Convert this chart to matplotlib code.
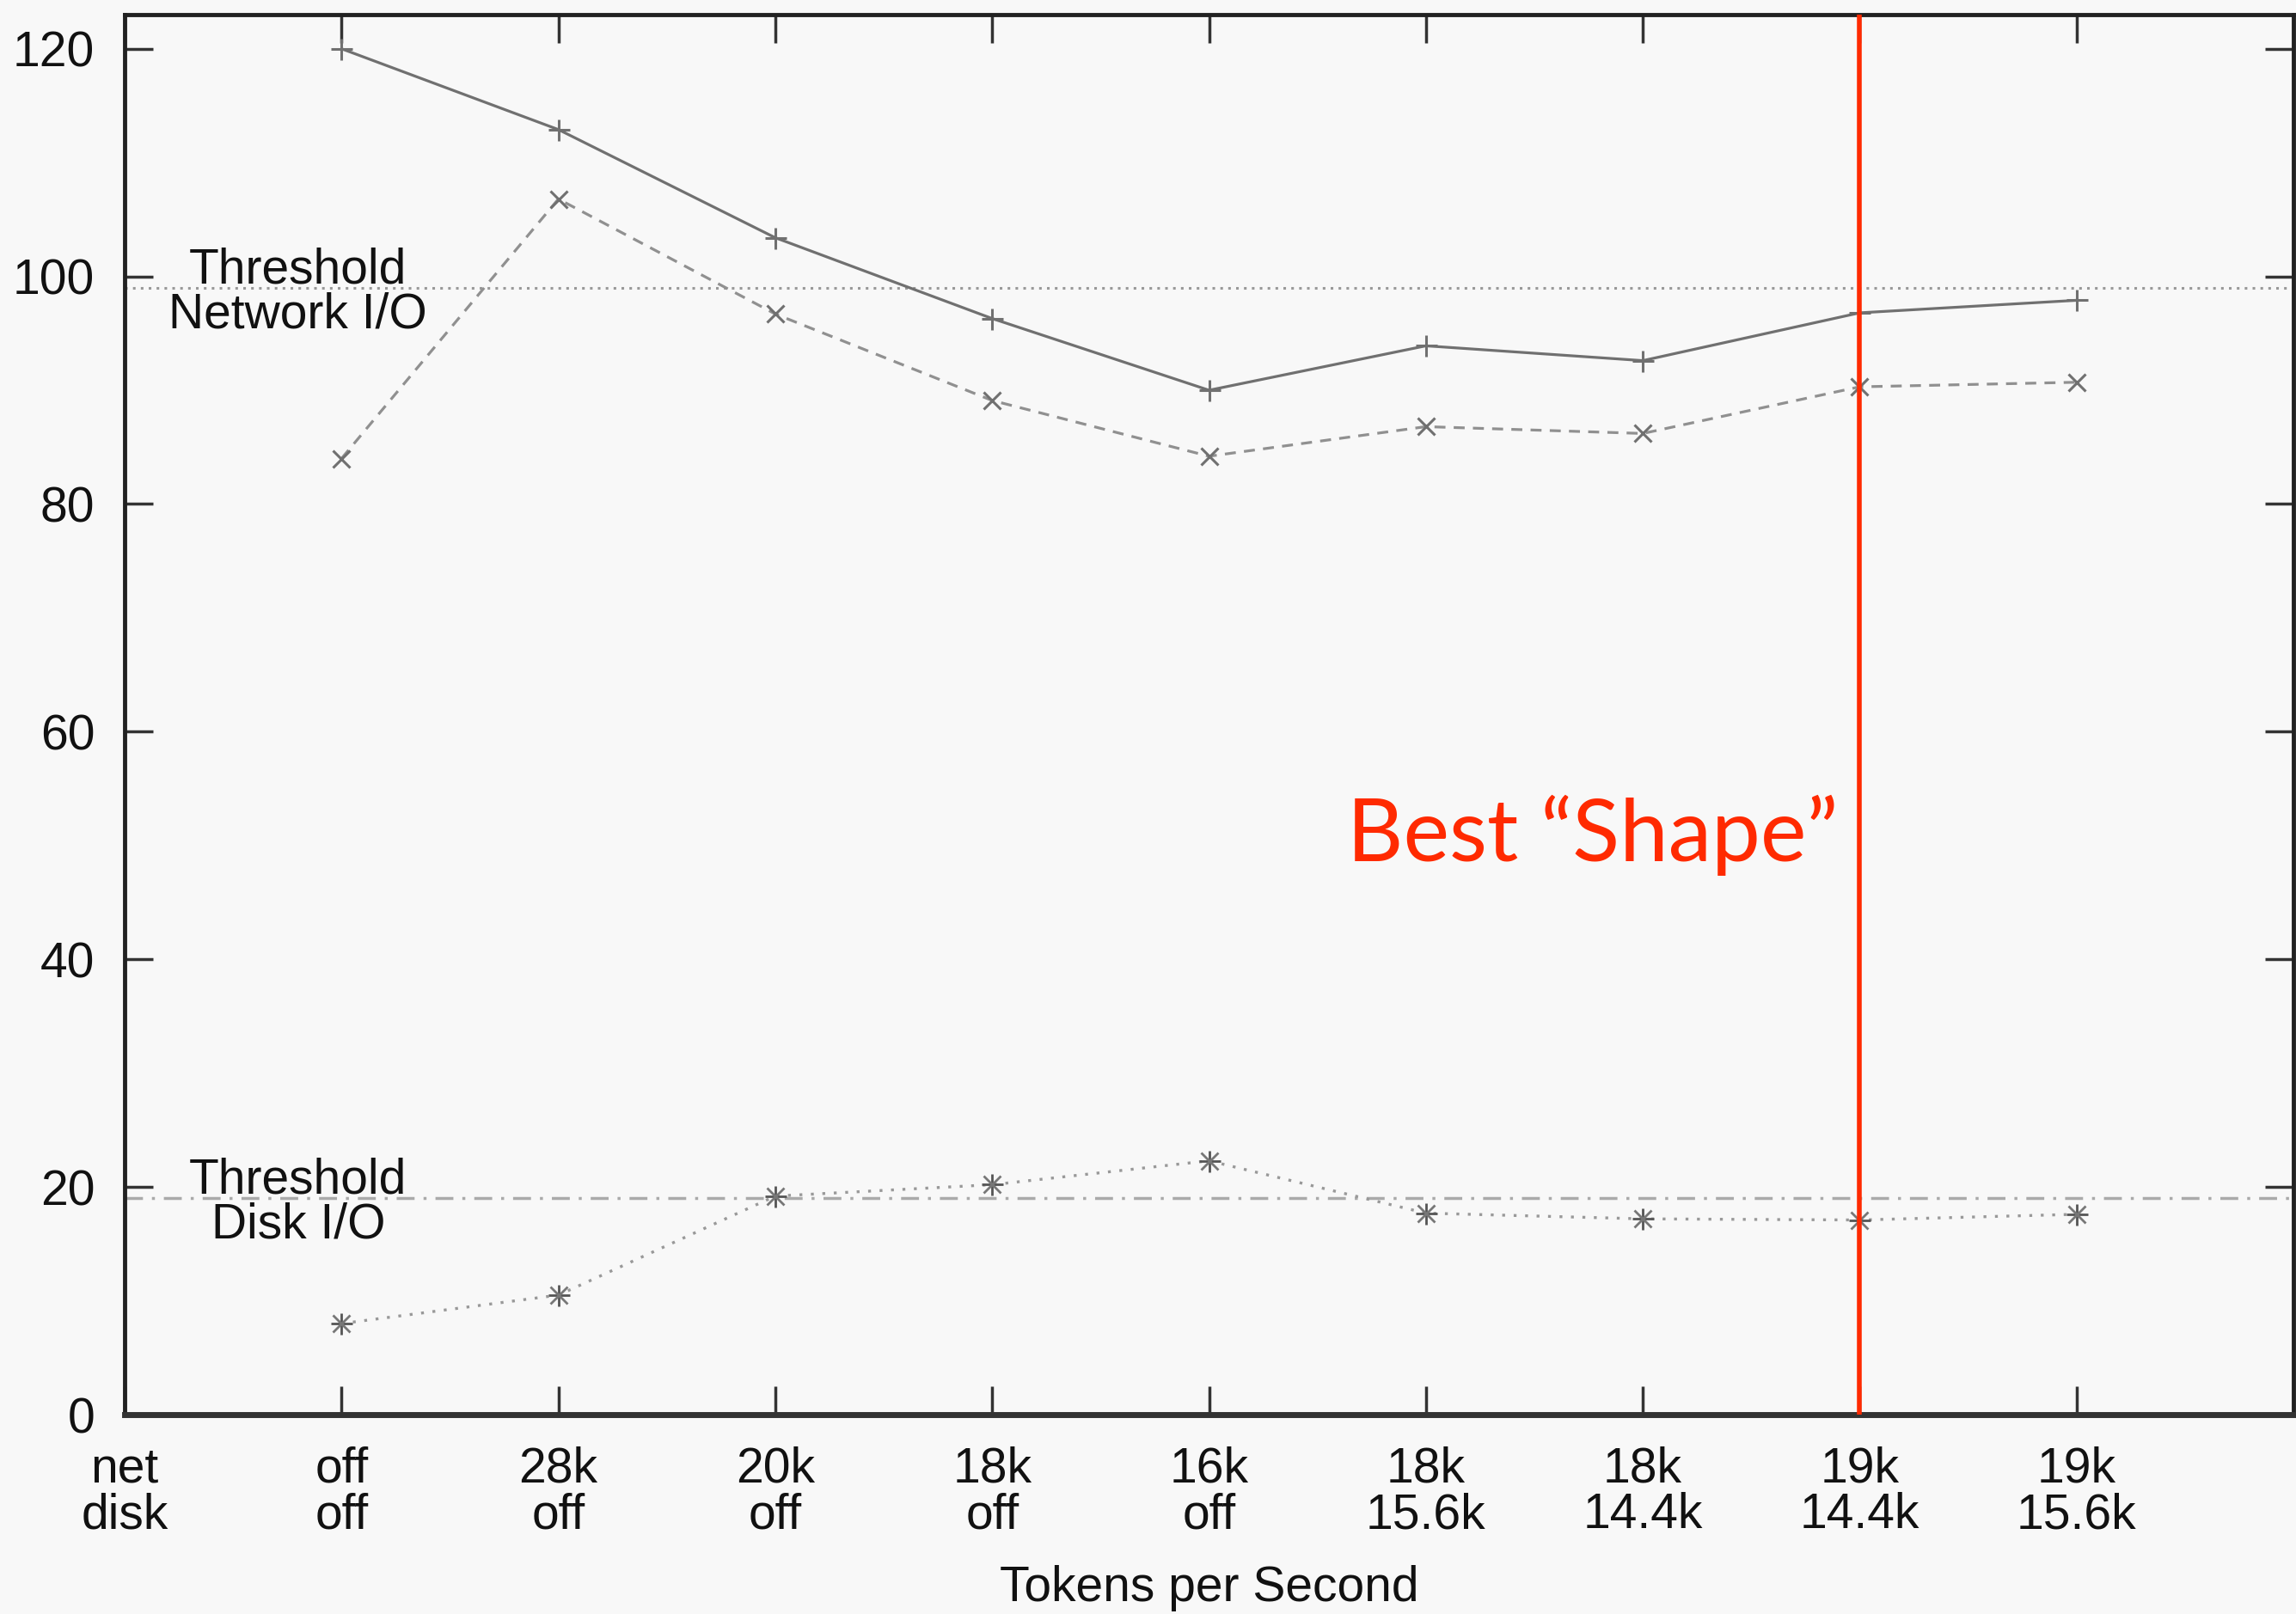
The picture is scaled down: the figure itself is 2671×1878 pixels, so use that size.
import numpy as np
import matplotlib.pyplot as plt

# x categories (net rate / disk rate)
net_rates = ["net", "off", "28k", "20k", "18k", "16k", "18k", "18k", "19k", "19k"]
disk_rates = ["disk", "off", "off", "off", "off", "off", "15.6k", "14.4k", "14.4k", "15.6k"]

# measured series, one value per config (skipping the header tick)
net_io = [120.0, 112.9, 103.4, 96.3, 90.0, 93.9, 92.6, 96.8, 97.9]
net_io_2 = [84.0, 106.8, 96.7, 89.1, 84.2, 86.8, 86.2, 90.3, 90.7]
disk_io = [8.0, 10.5, 19.2, 20.2, 22.3, 17.7, 17.2, 17.1, 17.6]

net_threshold = 99.0
disk_threshold = 19.0
best_index = 8

bg = "#f8f8f8"
grey = "#707070"
red = "#ff2a00"

fig = plt.figure(figsize=(26.71, 18.78), dpi=100, facecolor=bg)
ax = fig.add_axes([145 / 2671, 1 - 1646 / 1878, (2668 - 145) / 2671, (1646 - 17) / 1878])
ax.set_facecolor(bg)

xs = np.arange(1, len(net_io) + 1)

ax.axhline(net_threshold, color="#999999", lw=2.2, ls=(0, (1, 2)), zorder=1)
ax.axhline(disk_threshold, color="#aaaaaa", lw=2.5, ls=(0, (6, 3, 1, 3)), zorder=1)

ax.plot(xs, net_io, color=grey, lw=2.3, ls="-", marker="+", ms=18, mew=2.2, zorder=3)
ax.plot(xs, net_io_2, color="#909090", lw=2.3, ls=(0, (4, 3)), marker="x", ms=15, mew=2.2,
        mec=grey, zorder=3)
ax.plot(xs, disk_io, color="#999999", lw=2.4, ls=(0, (1, 3)), zorder=3)
ax.plot(xs, disk_io, ls="none", marker="+", ms=18, mew=2.0, color="#555555", zorder=4)
ax.plot(xs, disk_io, ls="none", marker="x", ms=14, mew=2.0, color="#777777", zorder=4)

ax.axvline(best_index, color=red, lw=4, zorder=5)

fs = 41
label_font = dict(family="Liberation Sans", fontsize=fs, color="#111111")
ax.text(0.8, 98.6, "Threshold\nNetwork I/O", ha="center", va="center",
        linespacing=0.95, **label_font)
ax.text(0.8, 18.6, "Threshold\nDisk I/O", ha="center", va="center",
        linespacing=0.95, **label_font)

ax.text(7.9, 50.9, "Best \u201cShape\u201d", ha="right", va="center",
        family="Lato", fontsize=73, color=red)

ax.set_xlim(0, 10)
ax.set_ylim(0, 123)
ax.set_xticks(np.arange(len(net_rates)))
ax.set_xticklabels([f"{n}\n{d}" for n, d in zip(net_rates, disk_rates)],
                   linespacing=1.0)
ax.set_yticks([0, 20, 40, 60, 80, 100, 120])
ax.tick_params(direction="in", length=24, width=2.5, color="#333333",
               top=True, right=True, labelsize=fs, pad=25)
for lab in ax.get_xticklabels() + ax.get_yticklabels():
    lab.set_family("Liberation Sans")
    lab.set_color("#111111")
ax.tick_params(axis="x", pad=26)

for side in ["left", "top", "right"]:
    ax.spines[side].set_linewidth(3.5)
    ax.spines[side].set_color("#222222")
ax.spines["bottom"].set_linewidth(5)
ax.spines["bottom"].set_color("#333333")

ax.set_xlabel("Tokens per Second", family="Liberation Sans", fontsize=fs,
              color="#111111", labelpad=22)

fig.savefig("out.png", dpi=100, facecolor=bg)
